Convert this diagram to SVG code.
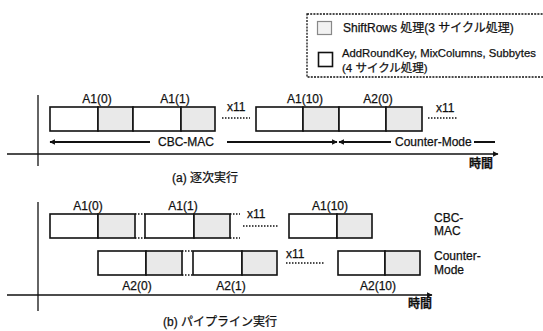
<svg xmlns="http://www.w3.org/2000/svg" width="543" height="331" viewBox="0 0 543 331">
<style>
text{font-family:"Liberation Sans","Noto Sans CJK JP",sans-serif;fill:#111;}
.lb{font-size:12px;stroke:#111;stroke-width:0.25;}
.cap{font-size:12px;stroke:#111;stroke-width:0.25;}
.w{fill:#fff;stroke:#111;stroke-width:1.6;}
.g{fill:#e9e9e9;stroke:#111;stroke-width:1.6;}
.dot{stroke:#111;stroke-width:1.4;stroke-dasharray:1.5 1.5;fill:none;}
.ax{stroke:#111;stroke-width:1.3;fill:none;}
.ar{stroke:#111;stroke-width:2;fill:none;}
</style>
<defs>
<marker id="ah" viewBox="0 0 10 10" refX="9" refY="5" markerWidth="8" markerHeight="5.5" orient="auto-start-reverse" markerUnits="userSpaceOnUse">
<path d="M0,0 L10,5 L0,10 z" fill="#111"/>
</marker>
</defs>

<g id="legend">
<rect x="307" y="14" width="245" height="63" fill="none" stroke="#111" stroke-width="1.3" stroke-dasharray="2 1.2"/>
<rect x="317.5" y="21.5" width="14" height="13" fill="#f2f2f2" stroke="#888" stroke-width="1.2"/>
<text class="lb" x="343" y="32" font-size="11.5">ShiftRows 処理(3 サイクル処理)</text>
<rect x="318.5" y="52.5" width="14" height="14" fill="#fff" stroke="#111" stroke-width="1.6"/>
<text class="lb" x="342" y="57" style="font-size:11.3px">AddRoundKey, MixColumns, Subbytes</text>
<text class="lb" x="342" y="72" style="font-size:11.5px">(4 サイクル処理)</text>
</g>

<g id="connectors">
<!-- (a) axes -->
<line class="ax" x1="7" y1="154" x2="498" y2="154" marker-end="url(#ah)"/>
<line class="ax" x1="38" y1="95" x2="38" y2="166"/>
<!-- (b) axes -->
<line class="ax" x1="7" y1="295" x2="432" y2="295" marker-end="url(#ah)"/>
<line class="ax" x1="38" y1="202" x2="38" y2="311"/>
<!-- (a) mode arrows -->
<line class="ar" x1="150" y1="142" x2="50" y2="142" marker-end="url(#ah)"/>
<line class="ar" x1="227" y1="142" x2="337" y2="142" marker-end="url(#ah)"/>
<line class="ar" x1="391" y1="142" x2="339" y2="142" marker-end="url(#ah)"/>
<line class="ar" x1="474" y1="142" x2="495" y2="142"/>
<!-- (a) ellipses -->
<line class="dot" x1="222" y1="118" x2="250" y2="118"/>
<line class="dot" x1="428" y1="118" x2="458" y2="118"/>
<!-- (b) stubs and ellipses -->
<line class="dot" x1="135" y1="214" x2="145" y2="214"/>
<line class="dot" x1="135" y1="238" x2="145" y2="238"/>
<line class="dot" x1="230" y1="214" x2="240" y2="214"/>
<line class="dot" x1="230" y1="238" x2="240" y2="238"/>
<line class="dot" x1="243" y1="226" x2="279" y2="226"/>
<line class="dot" x1="182" y1="251" x2="193" y2="251"/>
<line class="dot" x1="182" y1="275" x2="193" y2="275"/>
<line class="dot" x1="286" y1="263" x2="325" y2="263"/>
</g>

<g id="a-A1-0">
<rect class="w" x="50" y="107" width="48" height="24"/>
<rect class="g" x="98" y="107" width="35" height="24"/>
<text class="lb" x="97" y="103" text-anchor="middle">A1(0)</text>
</g>
<g id="a-A1-1">
<rect class="w" x="133" y="107" width="48" height="24"/>
<rect class="g" x="181" y="107" width="34" height="24"/>
<text class="lb" x="175" y="103" text-anchor="middle">A1(1)</text>
</g>
<g id="a-A1-10">
<rect class="w" x="256" y="107" width="47" height="24"/>
<rect class="g" x="303" y="107" width="36" height="24"/>
<text class="lb" x="305" y="103" text-anchor="middle">A1(10)</text>
</g>
<g id="a-A2-0">
<rect class="w" x="339" y="107" width="47" height="24"/>
<rect class="g" x="386" y="107" width="36" height="24"/>
<text class="lb" x="378" y="103" text-anchor="middle">A2(0)</text>
</g>
<g id="a-labels">
<text class="lb" x="227" y="111">x11</text>
<text class="lb" x="436" y="112">x11</text>
<text class="lb" x="186" y="146" text-anchor="middle">CBC-MAC</text>
<text class="lb" x="395" y="146">Counter-Mode</text>
<text class="lb" x="469" y="168" font-weight="bold">時間</text>
<text class="cap" x="172" y="182">(a) 逐次実行</text>
</g>

<g id="b-A1-0">
<rect class="w" x="50" y="214" width="48" height="24"/>
<rect class="g" x="98" y="214" width="37" height="24"/>
<text class="lb" x="88" y="210" text-anchor="middle">A1(0)</text>
</g>
<g id="b-A1-1">
<rect class="w" x="145" y="214" width="49" height="24"/>
<rect class="g" x="194" y="214" width="36" height="24"/>
<text class="lb" x="183" y="210" text-anchor="middle">A1(1)</text>
</g>
<g id="b-A1-10">
<rect class="w" x="289" y="214" width="48" height="24"/>
<rect class="g" x="337" y="214" width="35" height="24"/>
<text class="lb" x="330" y="210" text-anchor="middle">A1(10)</text>
</g>
<g id="b-A2-0">
<rect class="w" x="98" y="251" width="48" height="24"/>
<rect class="g" x="146" y="251" width="36" height="24"/>
<text class="lb" x="137" y="290" text-anchor="middle">A2(0)</text>
</g>
<g id="b-A2-1">
<rect class="w" x="193" y="251" width="49" height="24"/>
<rect class="g" x="242" y="251" width="35" height="24"/>
<text class="lb" x="231" y="290" text-anchor="middle">A2(1)</text>
</g>
<g id="b-A2-10">
<rect class="w" x="338" y="251" width="47" height="24"/>
<rect class="g" x="385" y="251" width="35" height="24"/>
<text class="lb" x="378" y="290" text-anchor="middle">A2(10)</text>
</g>
<g id="b-labels">
<text class="lb" x="247" y="218">x11</text>
<text class="lb" x="286" y="258">x11</text>
<text class="lb" x="434" y="222">CBC-</text>
<text class="lb" x="434" y="235">MAC</text>
<text class="lb" x="434" y="260">Counter-</text>
<text class="lb" x="434" y="274">Mode</text>
<text class="lb" x="408" y="308" font-weight="bold">時間</text>
<text class="cap" x="163" y="326">(b) パイプライン実行</text>
</g>
</svg>
